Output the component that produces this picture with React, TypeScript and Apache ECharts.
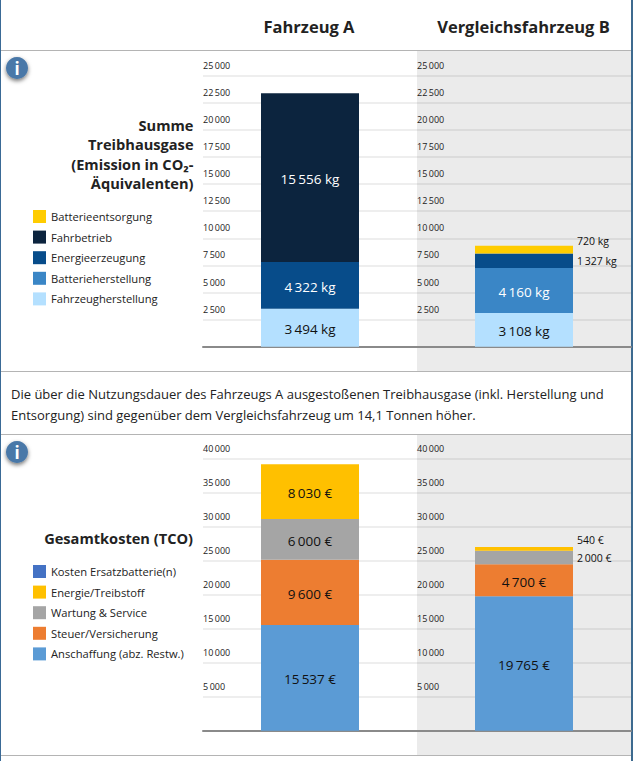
import React, { useEffect, useRef } from "react";
import * as echarts from "echarts";

const FONT = "'Open Sans', 'Noto Sans', sans-serif";

const ghgNames = ["Fahrzeugherstellung", "Batterieherstellung", "Energieerzeugung", "Fahrbetrieb", "Batterieentsorgung"];
const ghgColors = ["#b4e0ff", "#3a86c6", "#074c8a", "#0c243e", "#ffcc00"];
const ghgA = [3494, 0, 4322, 15556, 0];
const ghgB = [3108, 4160, 1327, 0, 720];
const ghgTicks = 2500;
const ghgMax = 25000;

const tcoNames = ["Anschaffung (abz. Restw.)", "Steuer/Versicherung", "Wartung & Service", "Energie/Treibstoff", "Kosten Ersatzbatterie(n)"];
const tcoColors = ["#5b9bd5", "#ed7d31", "#a5a5a5", "#ffc000", "#4472c4"];
const tcoA = [15537, 9600, 6000, 8030, 0];
const tcoB = [19765, 4700, 2000, 540, 0];
const tcoTicks = 5000;
const tcoMax = 40000;

const fmt = (v: number) => String(v).replace(/\B(?=(\d{3})+(?!\d))/g, "\u2009");

const ghgGridTop = 75.7;
const ghgGridHeight = 271;
const tcoGridTop = 458.7;
const tcoGridHeight = 272;

function App() {
  const ref = useRef<HTMLDivElement>(null);
  useEffect(() => {
    document.body.style.margin = "0";
    document.body.style.overflow = "hidden";
    const chart = echarts.init(ref.current!, null, { renderer: "svg" });

    const grids = [
      { left: 203, width: 214, top: ghgGridTop, height: ghgGridHeight },
      { left: 417, width: 214, top: ghgGridTop, height: ghgGridHeight },
      { left: 203, width: 214, top: tcoGridTop, height: tcoGridHeight },
      { left: 417, width: 214, top: tcoGridTop, height: tcoGridHeight },
    ];
    const xAxis = grids.map((_, i) => ({
      type: "category" as const,
      gridIndex: i,
      data: [i % 2 === 0 ? "Fahrzeug A" : "Vergleichsfahrzeug B"],
      axisTick: { show: false },
      axisLabel: { show: false },
      axisLine: { lineStyle: { color: "#8a8a8a", width: 2 } },
    }));
    const yAxis = grids.map((_, i) => ({
      type: "value" as const,
      gridIndex: i,
      min: 0,
      max: i < 2 ? ghgMax : tcoMax,
      interval: i < 2 ? ghgTicks : tcoTicks,
      axisLine: { show: false },
      axisTick: { show: false },
      splitLine: { lineStyle: { color: "rgba(0,0,0,0.065)", width: 2 } },
      axisLabel: {
        inside: true,
        margin: 0,
        verticalAlign: "bottom" as const,
        padding: [0, 0, 6, 0],
        fontFamily: FONT,
        fontSize: 9,
        color: "#222",
        formatter: (v: number) => (v === 0 ? "" : fmt(v)),
      },
    }));

    const mkSeries = (
      names: string[],
      colors: string[],
      values: number[],
      gridIdx: number,
      unit: string,
      whiteText: boolean[],
      outside: Record<number, number>,
    ) =>
      names.map((name, k) => ({
        name,
        type: "bar" as const,
        stack: "s" + gridIdx,
        xAxisIndex: gridIdx,
        yAxisIndex: gridIdx,
        barWidth: 98,
        itemStyle: { color: colors[k] },
        data: [
          values[k] === 0
            ? null
            : {
                value: values[k],
                label:
                  outside[k] !== undefined
                    ? {
                        show: true,
                        position: "right" as const,
                        distance: 4,
                        offset: [0, outside[k]],
                        color: "#111",
                        fontSize: 10.5,
                        fontFamily: FONT,
                        formatter: `${fmt(values[k])} ${unit}`,
                      }
                    : {
                        show: true,
                        position: "inside" as const,
                        offset: [0, 1.5],
                        color: whiteText[k] ? "#fff" : "#111",
                        fontSize: 13.5,
                        fontFamily: FONT,
                        formatter: `${fmt(values[k])} ${unit}`,
                      },
              },
        ],
      }));

    const ghgWhite = [false, true, true, true, false];
    const tcoWhite = [false, false, false, false, false];
    const series = [
      ...mkSeries(ghgNames, ghgColors, ghgA, 0, "kg", ghgWhite, {}),
      ...mkSeries(ghgNames, ghgColors, ghgB, 1, "kg", ghgWhite, { 2: 0, 4: -8.5 }),
      ...mkSeries(tcoNames, tcoColors, tcoA, 2, "€", tcoWhite, {}),
      ...mkSeries(tcoNames, tcoColors, tcoB, 3, "€", tcoWhite, { 2: 0, 3: -9 }),
    ];

    const legendBase = {
      orient: "vertical" as const,
      left: 33,
      padding: 0,
      icon: "rect",
      itemWidth: 13,
      itemHeight: 13,
      itemGap: 7.6,
      selectedMode: false,
      textStyle: { fontFamily: FONT, fontSize: 11.2, color: "#222" },
    };

    const infoIcon = (cy: number) => [
      {
        type: "circle",
        shape: { cx: 17, cy, r: 11 },
        style: { fill: "#4a78a8", shadowBlur: 4, shadowColor: "rgba(0,0,0,0.55)", shadowOffsetY: 2 },
      },
      {
        type: "text",
        style: { text: "i", x: 17, y: cy, align: "center", verticalAlign: "middle", fill: "#fff", font: `bold 17px ${FONT}` },
      },
    ];

    const hline = (y: number) => ({
      type: "rect",
      z: -5,
      shape: { x: 0, y, width: 633, height: 1 },
      style: { fill: "#b4b4b4" },
    });

    const headline = (text: string, x: number) => ({
      type: "text",
      style: { text, x, y: 26, align: "center", verticalAlign: "middle", fill: "#222", font: `bold 16.5px ${FONT}` },
    });

    chart.setOption({
      animation: false,
      backgroundColor: "#ffffff",
      textStyle: { fontFamily: FONT },
      grid: grids,
      xAxis,
      yAxis,
      series,
      legend: [
        { ...legendBase, top: 210, data: [...ghgNames].reverse() },
        { ...legendBase, top: 565, data: [...tcoNames].reverse() },
      ],
      graphic: [
        { type: "rect", z: -10, shape: { x: 417, y: 51, width: 214, height: 320 }, style: { fill: "#ebebeb" } },
        { type: "rect", z: -10, shape: { x: 417, y: 435, width: 214, height: 320 }, style: { fill: "#ebebeb" } },
        hline(50),
        hline(371),
        hline(434),
        hline(755),
        { type: "rect", z: -4, shape: { x: 0, y: 0, width: 1, height: 761 }, style: { fill: "#3a6a96" } },
        { type: "rect", z: -4, shape: { x: 631, y: 0, width: 2, height: 761 }, style: { fill: "#3d6a8f" } },
        ...infoIcon(68),
        ...infoIcon(452),
        headline("Fahrzeug A", 309),
        headline("Vergleichsfahrzeug B", 523.5),
        {
          type: "text",
          style: {
            text: "Summe\nTreibhausgase\n(Emission in CO₂-\nÄquivalenten)",
            x: 193.5,
            y: 115,
            align: "right",
            verticalAlign: "top",
            lineHeight: 19.4,
            fill: "#222",
            font: `bold 14.6px ${FONT}`,
          },
        },
        {
          type: "text",
          style: {
            text: "Gesamtkosten (TCO)",
            x: 193,
            y: 537.5,
            align: "right",
            verticalAlign: "middle",
            fill: "#222",
            font: `bold 14.6px ${FONT}`,
          },
        },
        {
          type: "text",
          style: {
            text: "Die über die Nutzungsdauer des Fahrzeugs A ausgestoßenen Treibhausgase (inkl. Herstellung und\nEntsorgung) sind gegenüber dem Vergleichsfahrzeug um 14,1 Tonnen höher.",
            x: 11,
            y: 383,
            align: "left",
            verticalAlign: "top",
            lineHeight: 21.5,
            fill: "#222",
            font: `13px ${FONT}`,
          },
        },
      ],
    });
    return () => chart.dispose();
  }, []);
  return <div ref={ref} style={{ width: 633, height: 761 }} />;
}

export default App;
